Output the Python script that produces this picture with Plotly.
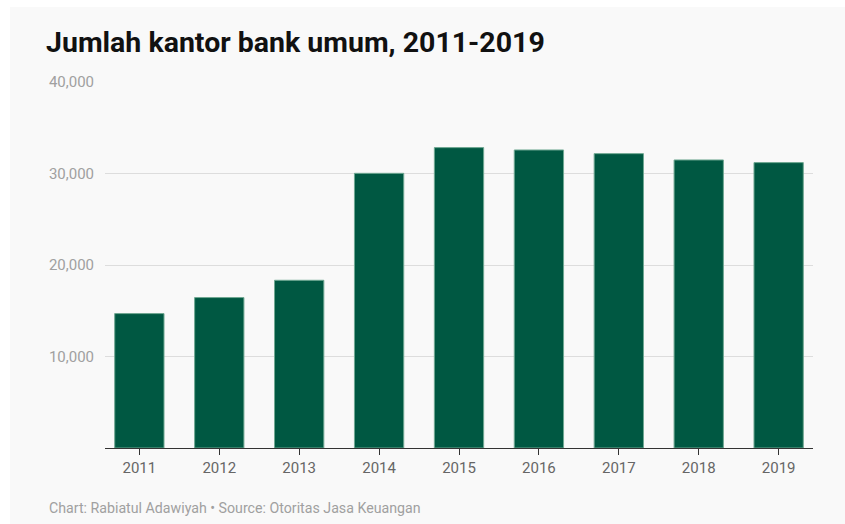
import plotly.graph_objects as go

years = ["2011", "2012", "2013", "2014", "2015", "2016", "2017", "2018", "2019"]
offices = [14690, 16440, 18330, 30020, 32830, 32570, 32170, 31480, 31190]
y_ticks = [10000, 20000, 30000, 40000]
y_tick_labels = ["10,000", "20,000", "30,000", "40,000"]

W, H = 845, 524
L, R, T, B = 105, 32, 82, 76
pw, ph = W - L - R, H - T - B

def px_x(p):
    return (p - L) / pw

def px_y(p):
    return (H - B - p) / ph

fig = go.Figure()
fig.add_trace(go.Bar(
    x=years, y=offices,
    marker=dict(color="#005842", line=dict(color="#6fa892", width=1)),
    hoverinfo="x+y",
))

fig.update_layout(
    width=W, height=H,
    margin=dict(l=L, r=R, t=T, b=B, pad=0),
    paper_bgcolor="#ffffff",
    plot_bgcolor="rgba(0,0,0,0)",
    bargap=0.383,
    showlegend=False,
    font=dict(family="Roboto", color="#999999"),
    title=dict(
        text="<b>Jumlah kantor bank umum, 2011-2019</b>",
        font=dict(family="Roboto", size=28.5, color="#111111"),
        xref="container", x=46 / W, xanchor="left",
        yref="container", y=1 - 42 / H, yanchor="middle",
    ),
    xaxis=dict(
        range=[-0.43, 8.43],
        showgrid=False,
        showline=True, linecolor="#333333", linewidth=1,
        ticks="outside", ticklen=6, tickcolor="#333333", tickwidth=1,
        tickfont=dict(family="Roboto", size=15, color="#666666"),
        fixedrange=True,
    ),
    yaxis=dict(
        range=[0, 40000],
        tickvals=y_ticks, ticktext=y_tick_labels,
        showgrid=True, gridcolor="#dddddd", gridwidth=1,
        zeroline=False, showline=False,
        ticks="", ticklabelstandoff=10,
        tickfont=dict(family="Roboto", size=15, color="#a0a0a0"),
        fixedrange=True,
    ),
    shapes=[dict(
        type="rect", xref="paper", yref="paper", layer="below",
        x0=px_x(10), x1=px_x(W + 5), y0=px_y(H + 5), y1=px_y(7),
        fillcolor="#f9f9f9", line=dict(width=0),
    )],
    annotations=[dict(
        text="Chart: Rabiatul Adawiyah • Source: Otoritas Jasa Keuangan",
        xref="paper", yref="paper", x=px_x(47), y=px_y(508),
        xanchor="left", yanchor="middle", showarrow=False,
        font=dict(family="Roboto", size=14.2, color="#a0a0a0"),
    )],
)

fig.write_html("out.html")
